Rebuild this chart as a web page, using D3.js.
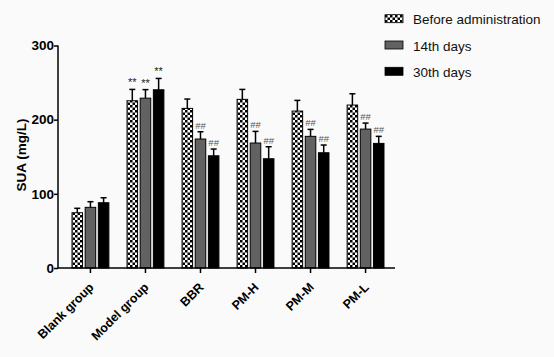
<!DOCTYPE html>
<html><head><meta charset="utf-8">
<script src="https://cdn.jsdelivr.net/npm/d3@7"></script>
<style>body{margin:0;background:#fafafa;}svg{display:block;}</style>
</head><body>
<script>
const categories = ["Blank group","Model group","BBR","PM-H","PM-M","PM-L"];
const seriesNames = ["Before administration","14th days","30th days"];
const beforeVals = [74.5, 225.5, 215.2, 227.4, 211.6, 219.7];
const beforeErr  = [6, 15.3, 12.6, 13.4, 14.4, 15.2];
const day14Vals  = [81.8, 229, 173.9, 168.5, 177.5, 187.3];
const day14Err   = [7.6, 11.5, 9.8, 15.7, 9.4, 8.1];
const day30Vals  = [88, 240.3, 151.3, 147.3, 155.4, 168];
const day30Err   = [6.7, 15.3, 9.1, 16.2, 10.4, 9.5];
const annotations = [
  ["", "", ""],
  ["**", "**", "**"],
  ["", "##", "##"],
  ["", "##", "##"],
  ["", "##", "##"],
  ["", "##", "##"]
];
const yTicks = [0, 100, 200, 300];

const W = 554, H = 357;
const FONT = "Liberation Sans, Arial, sans-serif";
const svg = d3.select("body").append("svg").attr("width", W).attr("height", H);
svg.append("rect").attr("width", W).attr("height", H).attr("fill", "#fafafa");

const defs = svg.append("defs");
const pat = defs.append("pattern").attr("id","checker").attr("patternUnits","userSpaceOnUse")
  .attr("width",5).attr("height",5);
pat.append("rect").attr("width",5).attr("height",5).attr("fill","#fff");
pat.append("rect").attr("width",2.5).attr("height",2.5).attr("fill","#000");
pat.append("rect").attr("x",2.5).attr("y",2.5).attr("width",2.5).attr("height",2.5).attr("fill","#000");

const fills = ["url(#checker)", "#626262", "#000"];
const values = [beforeVals, day14Vals, day30Vals];
const errs = [beforeErr, day14Err, day30Err];

const x = d3.scaleBand().domain(categories).range([61, 395]).paddingInner(0.33).paddingOuter(0.2);
const y = d3.scaleLinear().domain([0, 300]).range([268, 45.5]);
const xs = d3.scaleBand().domain([0,1,2]).range([0, x.bandwidth()]).paddingInner(0.2);

const g = svg.append("g");
categories.forEach((c, i) => {
  for (let s = 0; s < 3; s++) {
    const bx = x(c) + xs(s);
    const bw = xs.bandwidth();
    const v = values[s][i], e = errs[s][i];
    const cx = bx + bw / 2;
    g.append("line").attr("x1", cx).attr("x2", cx).attr("y1", y(v)).attr("y2", y(v + e))
      .attr("stroke", "#000").attr("stroke-width", 1.5);
    g.append("line").attr("x1", cx - 3).attr("x2", cx + 3).attr("y1", y(v + e)).attr("y2", y(v + e))
      .attr("stroke", "#000").attr("stroke-width", 1.5);
    g.append("rect").attr("x", bx).attr("y", y(v)).attr("width", bw).attr("height", y(0) - y(v))
      .attr("fill", fills[s]).attr("stroke", "#000").attr("stroke-width", 1);
    const a = annotations[i][s];
    if (a) {
      g.append("text").attr("x", cx).attr("y", y(v + e) - 3).attr("text-anchor", "middle")
        .attr("font-family", FONT).attr("font-size", a === "**" ? 11 : 9.5)
        .attr("fill", a === "**" ? "#222" : "#555").text(a);
    }
  }
});

// axes
const yAxis = svg.append("g").attr("transform", "translate(58,0)")
  .call(d3.axisLeft(y).tickValues(yTicks).tickSize(4).tickFormat(d3.format("d")));
yAxis.select(".domain").attr("stroke-width", 1.5).attr("d", `M0,${y(300)}V${y(0)}`);
yAxis.selectAll(".tick line").attr("stroke-width", 1.5);
yAxis.selectAll(".tick text").attr("font-family", FONT)
  .attr("font-weight", "bold").attr("font-size", 13.5).attr("fill", "#000").attr("x", -4);

const xAxis = svg.append("g").attr("transform", `translate(0,${y(0)})`)
  .call(d3.axisBottom(x).tickSize(5).tickSizeOuter(0));
xAxis.select(".domain").attr("stroke-width", 1.5).attr("d", `M58,0H395`);
xAxis.selectAll(".tick line").attr("stroke-width", 1.5);
xAxis.selectAll(".tick text").attr("font-family", FONT)
  .attr("font-weight", "bold").attr("font-size", 12.5).attr("fill", "#000")
  .attr("text-anchor", "end").attr("dy", 0).attr("y", 0)
  .attr("transform", "translate(4,20) rotate(-45)");

svg.append("text").attr("transform", `translate(26,155) rotate(-90)`)
  .attr("text-anchor", "middle").attr("font-family", FONT)
  .attr("font-weight", "bold").attr("font-size", 13.5).text("SUA (mg/L)");

// legend
const leg = svg.append("g");
seriesNames.forEach((n, i) => {
  const ly = 18.7 + i * 26.3;
  leg.append("rect").attr("x", 385).attr("y", ly - 4).attr("width", 18).attr("height", 8)
    .attr("fill", fills[i]).attr("stroke", "#000").attr("stroke-width", 0.8);
  leg.append("text").attr("x", 413).attr("y", ly + 5.5).attr("font-family", FONT)
    .attr("font-size", 13.5).attr("fill", "#111").text(n);
});
</script>
</body></html>
